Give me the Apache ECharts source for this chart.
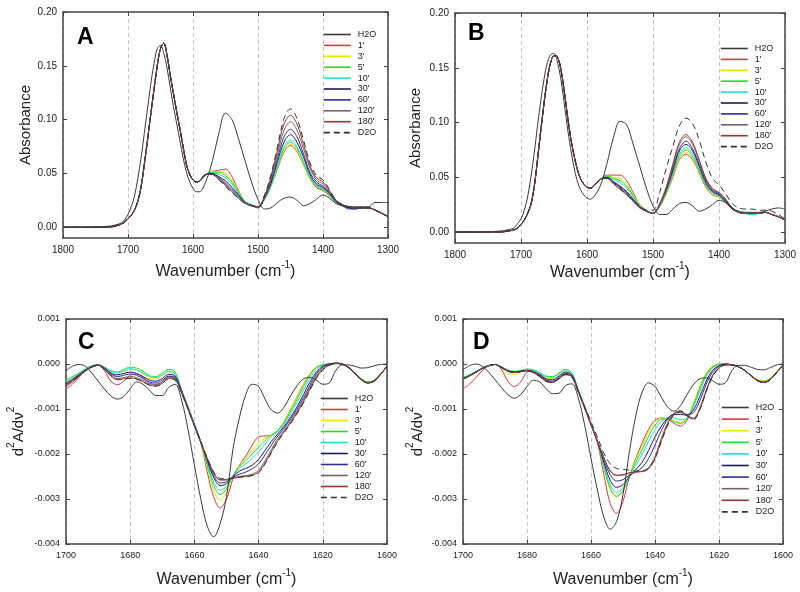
<!DOCTYPE html>
<html><head><meta charset="utf-8">
<script src="https://cdn.jsdelivr.net/npm/echarts@6/dist/echarts.min.js"></script>
<style>html,body{margin:0;padding:0;background:#fff}#c{width:800px;height:592px}</style>
</head><body><div id="c"></div>
<script>
// ---------- series names & colours ----------
const names = ["H2O","1'","3'","5'","10'","30'","60'","120'","180'","D2O"];
const colors = ["#3a3a3a","#d83a3a","#e6e600","#22dd22","#22dddd","#1c1c5a","#2c2ca0","#7a6262","#9a3434","#333333"];

// ---------- panels A & B: wavenumber grid ----------
const xAB = [1800,1760,1730,1720,1710,1705,1700,1695,1690,1685,1680,1675,1670,1665,1660,1655,1650,1645,1640,1635,1630,1625,1620,1615,1610,1605,1600,1595,1590,1580,1570,1560,1550,1540,1530,1520,1510,1500,1490,1480,1470,1460,1450,1440,1430,1420,1410,1400,1390,1380,1370,1360,1350,1340,1330,1320,1310,1300];

// Panel A
const aH2O = [0.000,0.000,0.001,0.002,0.004,0.007,0.012,0.019,0.029,0.045,0.064,0.087,0.110,0.133,0.152,0.166,0.169,0.162,0.148,0.130,0.112,0.096,0.080,0.064,0.051,0.042,0.036,0.033,0.033,0.043,0.062,0.088,0.106,0.100,0.082,0.062,0.042,0.026,0.017,0.018,0.023,0.027,0.028,0.025,0.020,0.022,0.026,0.030,0.027,0.022,0.020,0.019,0.019,0.019,0.019,0.023,0.023,0.023];
const aAmideI = [0.000,0.000,0.000,0.001,0.003,0.005,0.008,0.011,0.016,0.024,0.037,0.058,0.081,0.105,0.128,0.150,0.166,0.171,0.160,0.141,0.124,0.107,0.091,0.074,0.058,0.049,0.044,0.042,0.043,0.049];
const a_1   = aAmideI.concat([0.052,0.053,0.054,0.047,0.034,0.024,0.021,0.019,0.026,0.038,0.054,0.070,0.076,0.070,0.058,0.045,0.037,0.034,0.029,0.023,0.020,0.019,0.018,0.018,0.018,0.016,0.013,0.010]);
const a_3   = aAmideI.concat([0.052,0.052,0.050,0.044,0.033,0.024,0.021,0.019,0.026,0.038,0.055,0.071,0.077,0.071,0.058,0.045,0.038,0.035,0.029,0.023,0.020,0.019,0.018,0.018,0.018,0.016,0.013,0.010]);
const a_5   = aAmideI.concat([0.051,0.051,0.048,0.042,0.032,0.024,0.021,0.019,0.026,0.039,0.056,0.073,0.079,0.073,0.060,0.046,0.038,0.035,0.030,0.023,0.020,0.019,0.018,0.018,0.018,0.016,0.013,0.010]);
const a_10  = aAmideI.concat([0.051,0.049,0.046,0.040,0.031,0.024,0.021,0.019,0.026,0.039,0.057,0.075,0.081,0.075,0.061,0.047,0.039,0.036,0.030,0.023,0.020,0.018,0.018,0.018,0.018,0.016,0.013,0.010]);
const a_30  = aAmideI.concat([0.050,0.047,0.043,0.037,0.030,0.023,0.020,0.019,0.027,0.041,0.061,0.079,0.086,0.079,0.065,0.049,0.040,0.037,0.031,0.024,0.020,0.018,0.017,0.018,0.018,0.016,0.013,0.010]);
const a_60  = aAmideI.concat([0.050,0.046,0.041,0.035,0.029,0.023,0.020,0.018,0.028,0.043,0.064,0.084,0.091,0.084,0.068,0.051,0.042,0.038,0.032,0.024,0.020,0.017,0.017,0.018,0.018,0.016,0.013,0.010]);
const a_120 = aAmideI.concat([0.049,0.045,0.040,0.034,0.028,0.023,0.020,0.019,0.028,0.045,0.068,0.090,0.098,0.090,0.073,0.055,0.044,0.040,0.033,0.025,0.021,0.019,0.018,0.018,0.018,0.016,0.013,0.010]);
const a_180 = aAmideI.concat([0.049,0.044,0.039,0.033,0.027,0.022,0.020,0.019,0.029,0.047,0.072,0.096,0.104,0.096,0.077,0.057,0.046,0.042,0.034,0.025,0.021,0.019,0.018,0.018,0.018,0.016,0.013,0.010]);
const aD2O  = aAmideI.concat([0.049,0.044,0.038,0.032,0.027,0.022,0.020,0.019,0.030,0.049,0.075,0.101,0.110,0.101,0.081,0.060,0.048,0.044,0.035,0.025,0.021,0.019,0.018,0.018,0.018,0.016,0.013,0.010]);

// Panel B
const bH2O = [0.000,0.000,0.001,0.002,0.004,0.008,0.012,0.020,0.032,0.050,0.072,0.097,0.120,0.140,0.155,0.162,0.163,0.156,0.141,0.120,0.097,0.077,0.060,0.047,0.039,0.034,0.031,0.030,0.032,0.042,0.062,0.086,0.101,0.098,0.080,0.060,0.040,0.024,0.016,0.016,0.021,0.026,0.027,0.024,0.019,0.021,0.025,0.029,0.027,0.022,0.019,0.018,0.018,0.018,0.019,0.021,0.022,0.021];
const bAmideI = [0.000,0.000,0.000,0.001,0.002,0.004,0.007,0.011,0.017,0.025,0.041,0.066,0.093,0.118,0.140,0.155,0.161,0.160,0.150,0.131,0.108,0.087,0.071,0.058,0.049,0.044,0.041,0.040,0.042,0.048];
const b_1   = bAmideI.concat([0.052,0.052,0.052,0.047,0.036,0.025,0.020,0.017,0.023,0.035,0.050,0.066,0.071,0.066,0.054,0.041,0.034,0.032,0.027,0.021,0.018,0.017,0.017,0.017,0.018,0.016,0.014,0.011]);
const b_3   = bAmideI.concat([0.051,0.050,0.049,0.044,0.034,0.025,0.020,0.017,0.024,0.035,0.052,0.067,0.073,0.067,0.055,0.042,0.035,0.032,0.027,0.021,0.018,0.017,0.017,0.017,0.018,0.016,0.014,0.011]);
const b_5   = bAmideI.concat([0.051,0.049,0.047,0.042,0.033,0.024,0.020,0.017,0.024,0.036,0.053,0.069,0.075,0.069,0.056,0.043,0.036,0.033,0.027,0.021,0.018,0.017,0.016,0.017,0.018,0.016,0.014,0.011]);
const b_10  = bAmideI.concat([0.050,0.048,0.045,0.040,0.032,0.024,0.020,0.017,0.024,0.037,0.054,0.071,0.077,0.071,0.058,0.044,0.036,0.033,0.028,0.021,0.018,0.017,0.016,0.017,0.018,0.016,0.014,0.011]);
const b_30  = bAmideI.concat([0.050,0.046,0.042,0.037,0.030,0.023,0.019,0.017,0.025,0.038,0.056,0.074,0.080,0.074,0.060,0.045,0.037,0.034,0.028,0.021,0.018,0.017,0.017,0.017,0.018,0.016,0.014,0.011]);
const b_60  = bAmideI.concat([0.050,0.046,0.041,0.036,0.029,0.023,0.019,0.017,0.025,0.039,0.058,0.076,0.083,0.076,0.062,0.047,0.038,0.035,0.029,0.022,0.018,0.017,0.017,0.017,0.018,0.016,0.014,0.011]);
const b_120 = bAmideI.concat([0.049,0.045,0.040,0.035,0.028,0.022,0.019,0.017,0.025,0.040,0.060,0.080,0.087,0.080,0.065,0.049,0.039,0.036,0.030,0.022,0.018,0.017,0.017,0.017,0.018,0.016,0.014,0.011]);
const b_180 = bAmideI.concat([0.049,0.044,0.039,0.034,0.028,0.022,0.019,0.017,0.026,0.041,0.062,0.082,0.089,0.082,0.066,0.049,0.040,0.036,0.030,0.022,0.018,0.017,0.017,0.017,0.018,0.016,0.014,0.011]);
const bD2O  = bAmideI.concat([0.049,0.045,0.040,0.034,0.029,0.024,0.020,0.020,0.036,0.058,0.078,0.097,0.104,0.099,0.084,0.064,0.049,0.043,0.035,0.026,0.022,0.021,0.021,0.020,0.020,0.019,0.016,0.012]);

// ---------- panels C & D: second derivative (units of 1e-3) ----------
const xCD = [1700,1698,1696,1694,1692,1690,1688,1686,1684,1682,1680,1678,1676,1674,1672,1670,1668,1666,1664,1662,1660,1658,1656,1654,1652,1650,1648,1646,1644,1642,1640,1638,1636,1634,1632,1630,1628,1626,1624,1622,1620,1618,1616,1614,1612,1610,1608,1606,1604,1602,1600];

const cH2O = [-0.15,-0.05,-0.01,-0.05,-0.20,-0.38,-0.56,-0.71,-0.78,-0.72,-0.55,-0.40,-0.45,-0.58,-0.70,-0.70,-0.52,-0.45,-0.80,-1.45,-2.25,-3.00,-3.60,-3.84,-3.55,-2.95,-1.90,-1.20,-0.68,-0.45,-0.50,-0.78,-1.02,-1.09,-0.95,-0.70,-0.48,-0.33,-0.30,-0.36,-0.45,-0.42,-0.15,-0.02,-0.02,-0.05,-0.09,-0.08,-0.04,-0.01,0.00];
const c_1   = [-0.55,-0.45,-0.30,-0.15,-0.05,-0.02,-0.15,-0.38,-0.46,-0.38,-0.25,-0.22,-0.30,-0.42,-0.45,-0.40,-0.28,-0.30,-0.62,-0.98,-1.36,-1.75,-2.40,-2.95,-3.20,-3.00,-2.55,-2.25,-2.05,-1.80,-1.62,-1.60,-1.58,-1.48,-1.28,-1.00,-0.72,-0.45,-0.22,-0.07,-0.02,0.00,0.02,0.00,-0.08,-0.20,-0.33,-0.40,-0.36,-0.22,-0.05];
const c_3   = [-0.40,-0.32,-0.22,-0.12,-0.04,-0.02,-0.10,-0.22,-0.25,-0.18,-0.12,-0.14,-0.22,-0.32,-0.33,-0.26,-0.17,-0.22,-0.60,-0.96,-1.35,-1.74,-2.30,-2.80,-3.03,-2.85,-2.50,-2.25,-2.10,-1.92,-1.75,-1.65,-1.58,-1.48,-1.28,-1.00,-0.72,-0.45,-0.22,-0.07,-0.02,0.00,0.02,0.00,-0.08,-0.20,-0.33,-0.40,-0.36,-0.22,-0.05];
const c_5   = [-0.35,-0.28,-0.20,-0.11,-0.04,-0.02,-0.07,-0.15,-0.18,-0.12,-0.07,-0.09,-0.16,-0.26,-0.28,-0.20,-0.12,-0.18,-0.58,-0.95,-1.34,-1.73,-2.25,-2.70,-2.90,-2.78,-2.48,-2.28,-2.15,-2.00,-1.85,-1.70,-1.58,-1.48,-1.30,-1.05,-0.78,-0.50,-0.25,-0.08,-0.02,0.00,0.02,0.00,-0.08,-0.20,-0.33,-0.40,-0.36,-0.22,-0.05];
const c_10  = [-0.38,-0.30,-0.21,-0.12,-0.05,-0.02,-0.08,-0.16,-0.20,-0.15,-0.10,-0.13,-0.20,-0.28,-0.30,-0.24,-0.16,-0.22,-0.58,-0.95,-1.33,-1.72,-2.20,-2.62,-2.80,-2.72,-2.48,-2.32,-2.22,-2.10,-1.95,-1.78,-1.62,-1.50,-1.33,-1.10,-0.85,-0.58,-0.32,-0.12,-0.03,0.00,0.02,0.00,-0.08,-0.21,-0.34,-0.41,-0.37,-0.22,-0.05];
const c_30  = [-0.42,-0.34,-0.24,-0.14,-0.06,-0.02,-0.09,-0.20,-0.24,-0.21,-0.18,-0.21,-0.28,-0.36,-0.38,-0.32,-0.23,-0.27,-0.60,-0.97,-1.35,-1.73,-2.15,-2.52,-2.70,-2.66,-2.50,-2.38,-2.32,-2.25,-2.12,-1.92,-1.72,-1.55,-1.38,-1.18,-0.95,-0.68,-0.40,-0.18,-0.05,0.00,0.02,0.00,-0.08,-0.21,-0.35,-0.42,-0.38,-0.23,-0.05];
const c_60  = [-0.45,-0.36,-0.25,-0.14,-0.06,-0.02,-0.10,-0.22,-0.28,-0.25,-0.22,-0.25,-0.32,-0.40,-0.42,-0.36,-0.27,-0.30,-0.62,-0.98,-1.36,-1.74,-2.12,-2.48,-2.64,-2.62,-2.52,-2.45,-2.40,-2.33,-2.22,-2.02,-1.80,-1.60,-1.42,-1.22,-1.00,-0.75,-0.47,-0.22,-0.07,-0.01,0.01,0.00,-0.08,-0.21,-0.35,-0.42,-0.38,-0.23,-0.05];
const c_120 = [-0.48,-0.38,-0.27,-0.15,-0.07,-0.03,-0.11,-0.25,-0.32,-0.30,-0.28,-0.30,-0.36,-0.44,-0.46,-0.40,-0.30,-0.33,-0.63,-0.99,-1.37,-1.74,-2.10,-2.42,-2.58,-2.58,-2.53,-2.50,-2.48,-2.45,-2.36,-2.15,-1.90,-1.66,-1.47,-1.27,-1.05,-0.80,-0.52,-0.27,-0.10,-0.02,0.01,0.00,-0.07,-0.20,-0.34,-0.42,-0.38,-0.23,-0.05];
const c_180 = [-0.50,-0.40,-0.28,-0.16,-0.07,-0.03,-0.12,-0.27,-0.35,-0.33,-0.31,-0.33,-0.39,-0.47,-0.49,-0.43,-0.32,-0.35,-0.64,-1.00,-1.38,-1.75,-2.10,-2.42,-2.57,-2.57,-2.54,-2.52,-2.50,-2.47,-2.40,-2.20,-1.95,-1.70,-1.50,-1.30,-1.08,-0.84,-0.56,-0.30,-0.12,-0.03,0.01,0.00,-0.07,-0.20,-0.34,-0.42,-0.38,-0.23,-0.05];
const cD2O  = [-0.45,-0.37,-0.26,-0.15,-0.07,-0.03,-0.12,-0.26,-0.34,-0.33,-0.32,-0.34,-0.40,-0.47,-0.49,-0.43,-0.33,-0.36,-0.64,-1.00,-1.37,-1.73,-2.08,-2.40,-2.54,-2.55,-2.53,-2.51,-2.50,-2.48,-2.42,-2.22,-1.97,-1.72,-1.52,-1.32,-1.10,-0.86,-0.58,-0.32,-0.13,-0.03,0.01,0.00,-0.07,-0.20,-0.34,-0.42,-0.38,-0.23,-0.05];

const dH2O = [-0.13,-0.04,0.00,-0.05,-0.18,-0.35,-0.52,-0.68,-0.76,-0.68,-0.50,-0.36,-0.40,-0.55,-0.66,-0.65,-0.48,-0.44,-0.75,-1.35,-2.10,-2.80,-3.40,-3.67,-3.50,-2.90,-1.95,-1.15,-0.62,-0.42,-0.50,-0.74,-0.96,-1.05,-0.92,-0.68,-0.46,-0.33,-0.31,-0.37,-0.45,-0.42,-0.15,-0.03,-0.03,-0.07,-0.12,-0.13,-0.08,-0.02,0.00];
const d_1   = [-0.55,-0.45,-0.30,-0.15,-0.04,-0.01,-0.12,-0.38,-0.50,-0.40,-0.18,-0.15,-0.22,-0.35,-0.40,-0.33,-0.22,-0.28,-0.60,-0.97,-1.36,-1.75,-2.45,-3.10,-3.32,-3.05,-2.50,-2.10,-1.75,-1.45,-1.25,-1.20,-1.22,-1.32,-1.38,-1.25,-0.90,-0.52,-0.22,-0.06,0.00,0.00,-0.02,-0.06,-0.14,-0.25,-0.35,-0.38,-0.32,-0.18,-0.03];
const d_3   = [-0.35,-0.28,-0.19,-0.10,-0.03,-0.01,-0.08,-0.20,-0.24,-0.18,-0.12,-0.13,-0.20,-0.30,-0.33,-0.26,-0.15,-0.22,-0.58,-0.95,-1.34,-1.73,-2.30,-2.78,-2.95,-2.80,-2.45,-2.12,-1.82,-1.52,-1.30,-1.20,-1.20,-1.26,-1.30,-1.20,-0.88,-0.50,-0.20,-0.05,0.00,0.00,-0.02,-0.06,-0.14,-0.25,-0.35,-0.38,-0.32,-0.18,-0.03];
const d_5   = [-0.30,-0.24,-0.17,-0.09,-0.03,-0.01,-0.06,-0.13,-0.16,-0.14,-0.11,-0.13,-0.19,-0.27,-0.28,-0.20,-0.12,-0.20,-0.57,-0.94,-1.33,-1.72,-2.28,-2.76,-2.94,-2.82,-2.48,-2.18,-1.90,-1.60,-1.36,-1.23,-1.22,-1.28,-1.32,-1.22,-0.92,-0.55,-0.24,-0.07,-0.01,0.00,-0.02,-0.06,-0.14,-0.26,-0.36,-0.39,-0.33,-0.18,-0.03];
const d_10  = [-0.30,-0.24,-0.17,-0.09,-0.03,-0.01,-0.07,-0.14,-0.17,-0.15,-0.12,-0.14,-0.20,-0.28,-0.30,-0.22,-0.13,-0.20,-0.57,-0.94,-1.33,-1.72,-2.24,-2.68,-2.85,-2.76,-2.48,-2.25,-2.00,-1.72,-1.46,-1.28,-1.20,-1.20,-1.24,-1.20,-0.95,-0.60,-0.28,-0.09,-0.02,0.00,-0.02,-0.06,-0.14,-0.26,-0.36,-0.40,-0.34,-0.19,-0.03];
const d_30  = [-0.32,-0.26,-0.18,-0.10,-0.04,-0.01,-0.07,-0.15,-0.18,-0.16,-0.14,-0.17,-0.24,-0.33,-0.35,-0.27,-0.18,-0.24,-0.59,-0.96,-1.34,-1.72,-2.18,-2.58,-2.74,-2.68,-2.50,-2.35,-2.18,-1.92,-1.62,-1.38,-1.20,-1.12,-1.12,-1.14,-1.02,-0.72,-0.38,-0.14,-0.04,0.00,-0.02,-0.06,-0.14,-0.26,-0.37,-0.41,-0.35,-0.19,-0.03];
const d_60  = [-0.32,-0.26,-0.18,-0.10,-0.04,-0.01,-0.07,-0.15,-0.18,-0.17,-0.15,-0.18,-0.26,-0.36,-0.38,-0.30,-0.21,-0.26,-0.60,-0.97,-1.35,-1.72,-2.12,-2.46,-2.60,-2.57,-2.47,-2.40,-2.30,-2.10,-1.80,-1.48,-1.22,-1.10,-1.08,-1.12,-1.08,-0.82,-0.45,-0.18,-0.05,-0.01,-0.02,-0.06,-0.14,-0.26,-0.37,-0.41,-0.35,-0.19,-0.03];
const d_120 = [-0.33,-0.26,-0.18,-0.10,-0.04,-0.01,-0.08,-0.16,-0.19,-0.17,-0.15,-0.19,-0.28,-0.38,-0.40,-0.32,-0.23,-0.28,-0.61,-0.97,-1.35,-1.71,-2.08,-2.38,-2.48,-2.47,-2.42,-2.40,-2.38,-2.30,-2.05,-1.65,-1.30,-1.10,-1.06,-1.14,-1.20,-0.98,-0.58,-0.25,-0.08,-0.02,-0.02,-0.06,-0.14,-0.26,-0.37,-0.41,-0.35,-0.19,-0.03];
const d_180 = [-0.34,-0.27,-0.19,-0.10,-0.04,-0.01,-0.08,-0.16,-0.19,-0.17,-0.15,-0.19,-0.28,-0.39,-0.41,-0.33,-0.24,-0.29,-0.62,-0.98,-1.35,-1.71,-2.08,-2.37,-2.47,-2.46,-2.42,-2.40,-2.39,-2.33,-2.10,-1.70,-1.33,-1.10,-1.04,-1.15,-1.22,-1.00,-0.60,-0.27,-0.09,-0.02,-0.02,-0.06,-0.14,-0.26,-0.37,-0.41,-0.35,-0.19,-0.03];
const dD2O  = [-0.33,-0.26,-0.18,-0.10,-0.04,-0.01,-0.08,-0.16,-0.19,-0.17,-0.15,-0.19,-0.28,-0.38,-0.40,-0.32,-0.23,-0.28,-0.60,-0.94,-1.28,-1.62,-1.98,-2.22,-2.32,-2.34,-2.36,-2.38,-2.38,-2.32,-2.10,-1.72,-1.36,-1.12,-1.05,-1.15,-1.24,-1.02,-0.62,-0.28,-0.10,-0.02,-0.02,-0.06,-0.14,-0.26,-0.37,-0.41,-0.35,-0.19,-0.03];

// tick label values
const absTicks = [0, 0.05, 0.10, 0.15, 0.20];
const panelLetters = ["A","B","C","D"];

// ---------- build chart ----------
const FONT = "Liberation Sans, Arial, sans-serif";
const panels = [
  {xs:xAB, sets:[aH2O,a_1,a_3,a_5,a_10,a_30,a_60,a_120,a_180,aD2O], grid:{left:63,top:12,width:325,height:226}, kind:'abs', legend:{left:323,top:30,gap:1.9}, letter:[77,26], yGap:30, xGap:22},
  {xs:xAB, sets:[bH2O,b_1,b_3,b_5,b_10,b_30,b_60,b_120,b_180,bD2O], grid:{left:455,top:13,width:330,height:230}, kind:'abs', legend:{left:720,top:44,gap:1.9}, letter:[468,22], yGap:32, xGap:18},
  {xs:xCD, sets:[cH2O,c_1,c_3,c_5,c_10,c_30,c_60,c_120,c_180,cD2O], grid:{left:66,top:319,width:321,height:225}, kind:'d2', legend:{left:320,top:394,gap:2}, letter:[78,331], yGap:40, xGap:24},
  {xs:xCD, sets:[dH2O,d_1,d_3,d_5,d_10,d_30,d_60,d_120,d_180,dD2O], grid:{left:463,top:319,width:320,height:225}, kind:'d2', legend:{left:721,top:403,gap:2.6}, letter:[473,331], yGap:38, xGap:24}
];

const grids=[], xAxes=[], yAxes=[], series=[], legends=[], graphics=[];
const lineCol = '#444';
panels.forEach((p, pi) => {
  grids.push(Object.assign({outerBoundsMode:'none', containLabel:false}, p.grid));
  const abs = p.kind === 'abs';
  const xr = abs ? {min:1300,max:1800,interval:100} : {min:1600,max:1700,interval:20};
  const lblSize = abs ? 10 : 9;
  xAxes.push(Object.assign({
    gridIndex:pi, type:'value', inverse:true, position:'bottom',
    axisLine:{show:true,onZero:false,lineStyle:{color:lineCol,width:1.5}},
    axisTick:{show:true,inside:true,length:4,lineStyle:{color:lineCol}},
    axisLabel:{show:true,fontSize:lblSize,color:'#222',fontFamily:FONT,margin:7,showMinLabel:true,showMaxLabel:true,formatter:v=>String(v)},
    splitLine:{show:true,lineStyle:{color:'#c4c4c4',type:[4,3],width:1}},
    name:'{t|Wavenumber (cm}{s|-1}{t|)}', nameLocation:'middle', nameGap:p.xGap,
    nameTextStyle:{fontFamily:FONT,color:'#222',rich:{t:{fontSize:16,fontFamily:FONT,color:'#222',lineHeight:20,verticalAlign:'bottom'},s:{fontSize:10,fontFamily:FONT,color:'#222',lineHeight:12,verticalAlign:'top'}}}
  }, xr));
  xAxes.push(Object.assign({
    gridIndex:pi, type:'value', inverse:true, position:'top',
    axisLine:{show:true,onZero:false,lineStyle:{color:lineCol,width:1.5}},
    axisTick:{show:true,inside:true,length:4,lineStyle:{color:lineCol}},
    axisLabel:{show:false}, splitLine:{show:false}
  }, xr));
  const yr = abs ? {min:-0.01,max:0.2} : {min:-4,max:1,interval:1};
  const yLbl = abs
    ? {show:true,fontSize:lblSize,color:'#222',fontFamily:FONT,margin:6,customValues:absTicks,formatter:v=>v.toFixed(2)}
    : {show:true,fontSize:lblSize,color:'#222',fontFamily:FONT,margin:6,formatter:v=>(v/1000).toFixed(3)};
  const yTick = abs ? {show:true,inside:true,length:4,customValues:absTicks,lineStyle:{color:lineCol}} : {show:true,inside:true,length:4,lineStyle:{color:lineCol}};
  yAxes.push(Object.assign({
    gridIndex:pi, type:'value', position:'left',
    axisLine:{show:true,onZero:false,lineStyle:{color:lineCol,width:1.5}},
    axisTick:yTick, axisLabel:yLbl, splitLine:{show:false},
    name: abs ? '{t|Absorbance}' : '{t|d}{s|2}{t|A/d\u03bd}{s|2}', nameLocation:'middle', nameGap:p.yGap,
    nameTextStyle:{fontFamily:FONT,color:'#222',rich:{t:{fontSize:15,fontFamily:FONT,color:'#222',lineHeight:20,verticalAlign:'bottom'},s:{fontSize:10,fontFamily:FONT,color:'#222',lineHeight:12,verticalAlign:'top'}}}
  }, yr));
  yAxes.push(Object.assign({
    gridIndex:pi, type:'value', position:'right',
    axisLine:{show:true,onZero:false,lineStyle:{color:lineCol,width:1.5}},
    axisTick:Object.assign({}, yTick), axisLabel:{show:false}, splitLine:{show:false}
  }, yr));

  p.sets.forEach((vals, k) => {
    series.push({
      type:'line', name:names[k], xAxisIndex:pi*2, yAxisIndex:pi*2,
      data:p.xs.map((x,i)=>[x, vals[i]]),
      symbol:'none', smooth:0.35, silent:true,
      lineStyle:{width:1, color:colors[k], type: k===9 ? [6,4] : 'solid'},
      itemStyle:{color:colors[k]}, z: 3 + (k===0 ? 1 : 0)
    });
  });

  legends.push({
    data:names, orient:'vertical', left:p.legend.left, top:p.legend.top,
    itemWidth:27, itemHeight:10, itemGap:p.legend.gap, selectedMode:false,
    padding:0, textStyle:{fontSize:9,color:'#222',fontFamily:FONT,padding:[0,0,0,2]},
    lineStyle:{width:1.6}, itemStyle:{opacity:0, borderWidth:0}
  });

  graphics.push({type:'text', left:p.letter[0], top:p.letter[1], z:10,
    style:{text:panelLetters[pi], font:'bold 23px '+FONT, fill:'#000'}});
});

const chart = echarts.init(document.getElementById('c'), null, {renderer:'canvas'});
chart.setOption({
  animation:false, backgroundColor:'#fff',
  grid:grids, xAxis:xAxes, yAxis:yAxes, series:series, legend:legends, graphic:graphics
});
</script></body></html>
